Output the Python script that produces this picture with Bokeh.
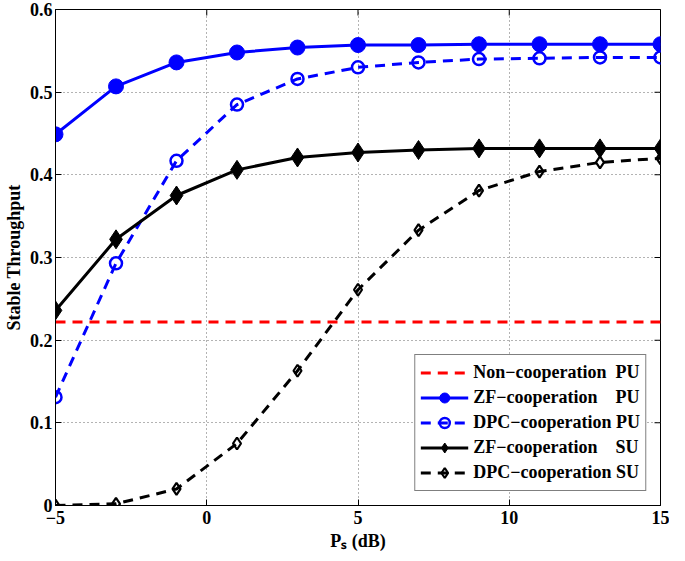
from bokeh.plotting import figure
from bokeh.models import Legend, LegendItem, Range1d
from bokeh.embed import file_html
from bokeh.resources import INLINE

# ---- data ----
x_db = [-5, -3, -1, 1, 3, 5, 7, 9, 11, 13, 15]
zf_pu = [0.449, 0.507, 0.536, 0.548, 0.554, 0.557, 0.557, 0.558, 0.558, 0.558, 0.558]
dpc_pu = [0.131, 0.293, 0.417, 0.485, 0.516, 0.530, 0.536, 0.540, 0.541, 0.542, 0.542]
zf_su = [0.236, 0.322, 0.375, 0.406, 0.421, 0.427, 0.430, 0.432, 0.432, 0.432, 0.432]
dpc_su = [0.000, 0.002, 0.020, 0.075, 0.163, 0.261, 0.333, 0.381, 0.404, 0.415, 0.420]
noncoop_pu = 0.222

x_ticks = [-5, 0, 5, 10, 15]
x_tick_labels = ["\u22125", "0", "5", "10", "15"]
y_ticks = [0, 0.1, 0.2, 0.3, 0.4, 0.5, 0.6]
y_tick_labels = ["0", "0.1", "0.2", "0.3", "0.4", "0.5", "0.6"]

labels = ["Non\u2212cooperation\u00a0\u00a0PU",
          "ZF\u2212cooperation\u00a0\u00a0\u00a0\u00a0PU",
          "DPC\u2212cooperation PU",
          "ZF\u2212cooperation\u00a0\u00a0\u00a0\u00a0SU",
          "DPC\u2212cooperation SU"]

FONT = "Liberation Serif"
FS = "18px"
BLUE = "#0000FF"

p = figure(width=669, height=553, output_backend="svg", toolbar_location=None,
           x_range=Range1d(x_db[0], x_db[-1]), y_range=Range1d(y_ticks[0], y_ticks[-1]),
           min_border_left=40, min_border_right=9, min_border_top=9, min_border_bottom=46)
p.background_fill_color = "white"
p.border_fill_color = "white"
p.outline_line_color = "black"
p.outline_line_width = 1

for ax in (p.xaxis[0], p.yaxis[0]):
    ax.major_label_text_font = FONT
    ax.major_label_text_font_style = "bold"
    ax.major_label_text_font_size = FS
    ax.major_label_text_color = "black"
    ax.major_tick_in = 6
    ax.major_tick_out = 0
    ax.minor_tick_line_color = None
    ax.axis_line_color = "black"
    ax.major_tick_line_color = "black"
    ax.axis_label_text_font = FONT
    ax.axis_label_text_font_style = "bold"
    ax.axis_label_text_font_size = FS
    ax.axis_label_text_color = "black"

p.xaxis.ticker = x_ticks
p.xaxis.major_label_overrides = dict(zip(x_ticks, x_tick_labels))
p.xaxis.major_label_standoff = 5
p.xaxis.axis_label = "P\u209b (dB)"
p.xaxis.axis_label_standoff = 4
p.yaxis.ticker = y_ticks
p.yaxis.major_label_overrides = dict(zip(y_ticks, y_tick_labels))
p.yaxis.major_label_standoff = 3
p.yaxis.axis_label = "Stable Throughput"
p.yaxis.axis_label_standoff = 3

# grid
for g in (p.xgrid[0], p.ygrid[0]):
    g.grid_line_color = "#666666"
    g.grid_line_dash = "1 3"
    g.grid_line_width = 1

# mirror ticks on top and right edges (half of each rect is clipped by the frame)
p.rect(x=x_ticks, y=[y_ticks[-1]] * len(x_ticks), width=1, height=12,
       width_units="screen", height_units="screen", fill_color="black", line_color=None)
p.rect(x=[x_db[-1]] * len(y_ticks), y=y_ticks, width=12, height=1,
       width_units="screen", height_units="screen", fill_color="black", line_color=None)

# series
r_nc = p.line([x_db[0], x_db[-1]], [noncoop_pu, noncoop_pu], line_color="#FF0000",
              line_width=3.2, line_dash="10 7")

r_zfpu_l = p.line(x_db, zf_pu, line_color=BLUE, line_width=3)
r_zfpu_m = p.scatter(x_db, zf_pu, marker="circle", size=15, fill_color=BLUE, line_color=BLUE)

r_dpcpu_l = p.line(x_db, dpc_pu, line_color=BLUE, line_width=3, line_dash="10 7")
r_dpcpu_m = p.scatter(x_db, dpc_pu, marker="circle", size=12, fill_color=None,
                      line_color=BLUE, line_width=2.5)

r_zfsu_l = p.line(x_db, zf_su, line_color="black", line_width=3)
r_zfsu_m = p.scatter(x_db, zf_su, marker="diamond", size=19, fill_color="black", line_color="black")

r_dpcsu_l = p.line(x_db, dpc_su, line_color="black", line_width=3, line_dash="10 7")
r_dpcsu_m = p.scatter(x_db, dpc_su, marker="diamond", size=12, fill_color=None,
                      line_color="black", line_width=2.2)

legend = Legend(items=[
    LegendItem(label=labels[0], renderers=[r_nc]),
    LegendItem(label=labels[1], renderers=[r_zfpu_l, r_zfpu_m]),
    LegendItem(label=labels[2], renderers=[r_dpcpu_l, r_dpcpu_m]),
    LegendItem(label=labels[3], renderers=[r_zfsu_l, r_zfsu_m]),
    LegendItem(label=labels[4], renderers=[r_dpcsu_l, r_dpcsu_m]),
], location="bottom_right")
legend.margin = 14
legend.padding = 5
legend.spacing = 0
legend.glyph_width = 48
legend.glyph_height = 25
legend.label_height = 25
legend.label_standoff = 5
legend.label_text_font = FONT
legend.label_text_font_style = "bold"
legend.label_text_font_size = FS
legend.label_text_color = "black"
legend.border_line_color = "black"
legend.border_line_width = 1
legend.background_fill_color = "white"
legend.background_fill_alpha = 1
p.add_layout(legend, "center")

open("out.html", "w").write(file_html(p, INLINE))
